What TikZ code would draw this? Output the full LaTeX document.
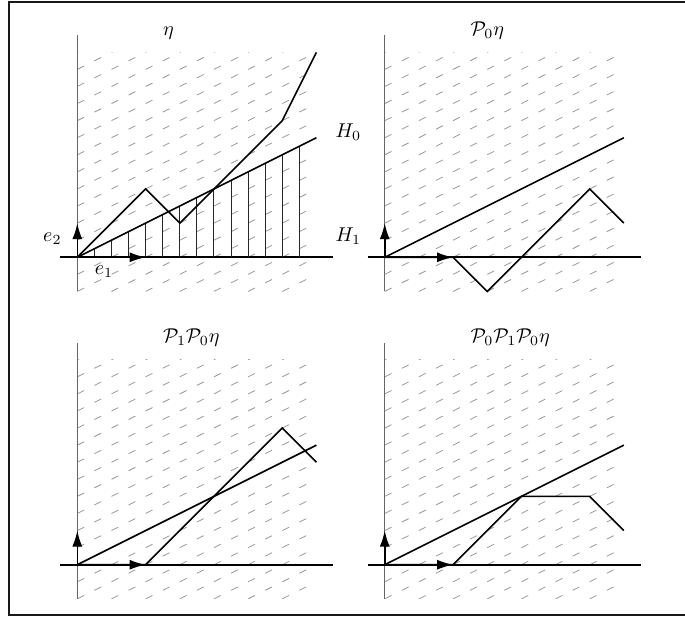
\documentclass[tikz,border=0pt]{standalone}
\usetikzlibrary{arrows.meta}
\newcommand{\panelbase}{%
  \begin{scope}
    \clip (0,-2) rectangle (14,12);
    \foreach \k in {-9,...,12} \draw[hatch] (0,\k) -- (14,{\k+7});
  \end{scope}
  \draw[vaxis] (0,-2) -- (0,13);
  \draw[haxis] (-1,0) -- (15,0);
}
\newcommand{\panelvecs}{%
  \draw[vec] (0,0) -- (4,0);
  \draw[vec] (0,0) -- (0,2);
}
\begin{document}
\begin{tikzpicture}[x=8.54pt,y=8.54pt,
  hatch/.style={draw=black!40, line width=0.4pt, dash pattern=on 3.8pt off 5.75pt},
  vaxis/.style={draw=black!60, line width=0.6pt},
  haxis/.style={draw=black, line width=0.8pt},
  mainline/.style={draw=black, line width=0.8pt},
  vec/.style={draw=black, line width=0.8pt, -{Latex[length=8pt,width=5pt]}},
  vline/.style={draw=black!85, line width=0.5pt},
  frame/.style={draw=black!90, line width=1pt},
  lbl/.style={anchor=base west, inner sep=0pt},
  lble/.style={anchor=base east, inner sep=0pt},
]
\useasboundingbox (-4.526,-21.06) rectangle (35.58,15.065);
\draw[frame] (-3.97,-20.94) rectangle (35.8,14.976);

% ---------- top left: eta ----------
\begin{scope}[shift={(0,0)}]
  \panelbase
  \foreach \i in {1,...,13} \draw[vline] (\i,0) -- (\i,{\i/2});
  \draw[mainline] (0,0) coordinate (A0) -- (14,7) coordinate (A1);
  \draw[mainline] (0,0) -- (4,4) -- (6,2) -- (12,8) -- (14,12);
  \panelvecs
  \node[lbl] (tA) at (5,13) {$\eta$};
  \node[lbl] (H0) at (15.1,7) {$H_0$};
  \node[lbl] (H1) at (15.1,0.9) {$H_1$};
  \node[lble] (e2) at (-0.9,0.9) {$e_2$};
  \node[lbl] (e1) at (1.0,-1.0) {$e_1$};
\end{scope}

% ---------- top right: P0 eta ----------
\begin{scope}[shift={(18,0)}]
  \panelbase
  \draw[mainline] (0,0) coordinate (B0) -- (14,7) coordinate (B1);
  \draw[mainline] (0,0) -- (4,0) -- (6,-2) -- (12,4) -- (14,2);
  \panelvecs
  \node[lbl] (tB) at (5,13) {$\mathcal{P}_0\eta$};
\end{scope}

% ---------- bottom left: P1 P0 eta ----------
\begin{scope}[shift={(0,-18)}]
  \panelbase
  \draw[mainline] (0,0) coordinate (C0) -- (14,7) coordinate (C1);
  \draw[mainline] (0,0) -- (4,0) -- (12,8) -- (14,6);
  \panelvecs
  \node[lbl] (tC) at (5,13) {$\mathcal{P}_1\mathcal{P}_0\eta$};
\end{scope}

% ---------- bottom right: P0 P1 P0 eta ----------
\begin{scope}[shift={(18,-18)}]
  \panelbase
  \draw[mainline] (0,0) coordinate (D0) -- (14,7) coordinate (D1);
  \draw[mainline] (0,0) -- (4,0) -- (8,4) -- (12,4) -- (14,2);
  \panelvecs
  \node[lbl] (tD) at (5,13) {$\mathcal{P}_0\mathcal{P}_1\mathcal{P}_0\eta$};
\end{scope}
\end{tikzpicture}
\end{document}
